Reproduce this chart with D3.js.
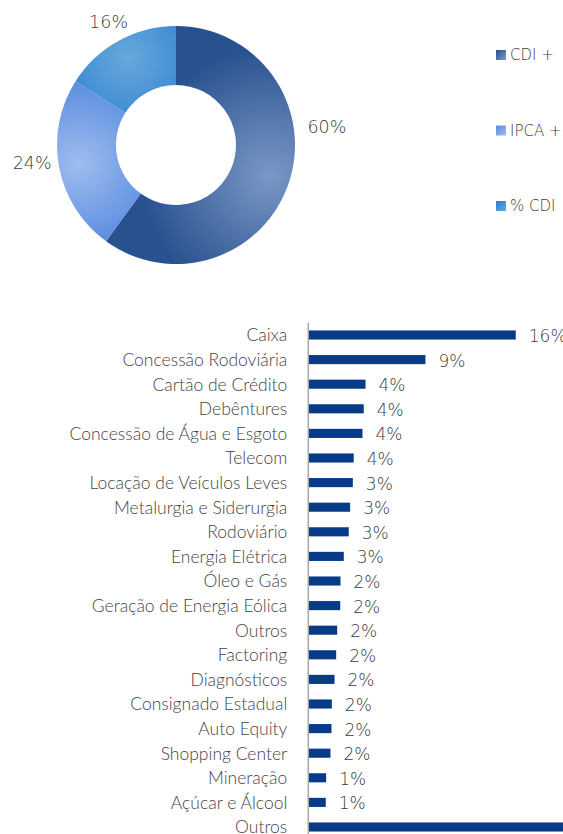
<!DOCTYPE html>
<html>
<head>
<meta charset="utf-8">
<script src="https://cdn.jsdelivr.net/npm/d3@7"></script>
<style>
  html, body { margin: 0; padding: 0; background: #fff; }
  svg { display: block; }
</style>
</head>
<body>
<svg id="chart" width="563" height="834"></svg>
<script>
// ---- Donut data ----
const donutCategories = ["CDI +", "IPCA +", "% CDI"];
const donutValues = [60, 24, 16];
const donutLabels = ["60%", "24%", "16%"];

// ---- Bar data ----
const sectors = [
  "Caixa", "Concessão Rodoviária", "Cartão de Crédito", "Debêntures",
  "Concessão de Água e Esgoto", "Telecom", "Locação de Veículos Leves",
  "Metalurgia e Siderurgia", "Rodoviário", "Energia Elétrica", "Óleo e Gás",
  "Geração de Energia Eólica", "Outros", "Factoring", "Diagnósticos",
  "Consignado Estadual", "Auto Equity", "Shopping Center", "Mineração",
  "Açúcar e Álcool", "Outros"
];
const sectorValues = [
  16.28, 9.17, 4.45, 4.31, 4.21, 3.52, 3.45, 3.24, 3.13, 2.74, 2.48,
  2.46, 2.22, 2.14, 2.01, 1.80, 1.77, 1.69, 1.35, 1.32, 26.0
];
const sectorLabels = [
  "16%", "9%", "4%", "4%", "4%", "4%", "3%", "3%", "3%", "3%", "2%",
  "2%", "2%", "2%", "2%", "2%", "2%", "2%", "1%", "1%", ""
];

const svg = d3.select("#chart");
const defs = svg.append("defs");

// ---- Gradients ----
const sliceColors = [
  { dark: "#28518f", light: "#7a98c6" },
  { dark: "#5a8ce0", light: "#9ebdee" },
  { dark: "#2a7fcf", light: "#68a8db" }
];

// ---- Donut ----
const cx = 176, cy = 145, rOuter = 119, rInner = 60;
const pie = d3.pie().sort(null).value(d => d);
const arcs = pie(donutValues);
const arc = d3.arc().innerRadius(rInner).outerRadius(rOuter);

arcs.forEach((a, i) => {
  const mid = (a.startAngle + a.endAngle) / 2;
  const rr = (rInner + rOuter) / 2 + 10;
  const g = defs.append("radialGradient")
    .attr("id", "slice" + i)
    .attr("gradientUnits", "userSpaceOnUse")
    .attr("cx", Math.sin(mid) * rr)
    .attr("cy", -Math.cos(mid) * rr)
    .attr("r", i === 0 ? 130 : 85);
  g.append("stop").attr("offset", "0%").attr("stop-color", sliceColors[i].light);
  g.append("stop").attr("offset", "100%").attr("stop-color", sliceColors[i].dark);

  const lg = defs.append("linearGradient")
    .attr("id", "legend" + i)
    .attr("x1", "0").attr("y1", "0").attr("x2", "1").attr("y2", "1");
  lg.append("stop").attr("offset", "0%").attr("stop-color", sliceColors[i].dark);
  lg.append("stop").attr("offset", "100%").attr("stop-color", sliceColors[i].light);
});

const donut = svg.append("g").attr("transform", `translate(${cx},${cy})`);
donut.selectAll("path.slice")
  .data(arcs)
  .join("path")
  .attr("class", "slice")
  .attr("d", arc)
  .attr("fill", (d, i) => `url(#slice${i})`);

// donut labels (placement follows the original's best-fit positions)
const labelFont = "'DejaVu Sans', sans-serif";
const labelFrac = [0.385, 0.544, 0.5];
const labelRad = [152, 145, 140];
const labelAngle = (d, i) => d.startAngle + labelFrac[i] * (d.endAngle - d.startAngle);
donut.selectAll("text")
  .data(arcs)
  .join("text")
  .attr("x", (d, i) => Math.sin(labelAngle(d, i)) * labelRad[i])
  .attr("y", (d, i) => -Math.cos(labelAngle(d, i)) * labelRad[i])
  .attr("text-anchor", "middle")
  .attr("dominant-baseline", "central")
  .attr("font-family", labelFont)
  .attr("font-weight", 300)
  .attr("font-size", 17.5)
  .attr("fill", "#3c3c3c")
  .text((d, i) => donutLabels[i]);

// legend
const legendY = d3.scalePoint().domain(donutCategories).range([55, 206]);
const legend = svg.append("g").selectAll("g")
  .data(donutCategories)
  .join("g")
  .attr("transform", d => `translate(496,${legendY(d)})`);
legend.append("rect")
  .attr("x", 0).attr("y", -5).attr("width", 10).attr("height", 10)
  .attr("fill", (d, i) => `url(#legend${i})`);
legend.append("text")
  .attr("x", 14).attr("y", 0)
  .attr("dominant-baseline", "central")
  .attr("font-family", labelFont)
  .attr("font-weight", 300)
  .attr("font-size", 15)
  .attr("fill", "#3c3c3c")
  .text(d => d);

// ---- Bar chart ----
const idx = d3.range(sectors.length);
const step = 24.6;
const yTop = 322.7;
const y = d3.scaleBand()
  .domain(idx)
  .range([yTop, yTop + step * idx.length])
  .paddingInner(0.63)
  .paddingOuter(0.315);
const x = d3.scaleLinear().domain([0, 20]).range([309, 563]);

const bars = svg.append("g");
bars.selectAll("rect")
  .data(idx)
  .join("rect")
  .attr("x", x(0))
  .attr("y", i => y(i))
  .attr("width", i => x(sectorValues[i]) - x(0))
  .attr("height", y.bandwidth())
  .attr("fill", "#073b88");

bars.selectAll("text.val")
  .data(idx.filter(i => sectorLabels[i] !== ""))
  .join("text")
  .attr("class", "val")
  .attr("x", i => x(sectorValues[i]) + 13)
  .attr("y", i => y(i) + y.bandwidth() / 2 + 1)
  .attr("dominant-baseline", "central")
  .attr("font-family", labelFont)
  .attr("font-weight", 300)
  .attr("font-size", 17)
  .attr("fill", "#3c3c3c")
  .text(i => sectorLabels[i]);

// category axis
const yAxis = d3.axisLeft(y).tickSize(0).tickPadding(21).tickFormat(i => sectors[i]);
const axisG = svg.append("g")
  .attr("transform", `translate(308.3,0)`)
  .call(yAxis);
axisG.select(".domain")
  .attr("stroke", "#a6a6a6")
  .attr("stroke-width", 1.5)
  .attr("d", `M0,${yTop}V${yTop + step * idx.length}`);
axisG.selectAll(".tick text")
  .attr("font-family", "Lato, sans-serif")
  .attr("font-weight", 300)
  .attr("font-size", 17.5)
  .attr("fill", "#454545")
  .attr("dy", "0.36em");
</script>
</body>
</html>
